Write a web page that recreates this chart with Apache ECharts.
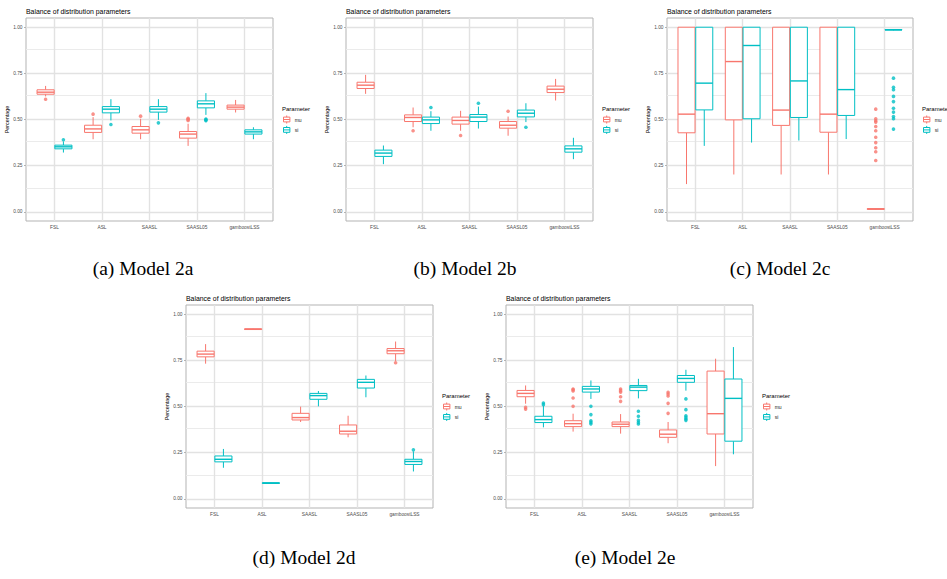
<!DOCTYPE html>
<html><head><meta charset="utf-8">
<script src="https://cdn.jsdelivr.net/npm/echarts@6/dist/echarts.min.js"></script>
<style>html,body{margin:0;padding:0;background:#fff;}#c{width:947px;height:579px;}</style>
</head><body><div id="c"></div>
<script>
// ---------- data ----------
const categories = ['FSL', 'ASL', 'SAASL', 'SAASL05', 'gamboostLSS'];
const yTickValues = [0, 0.25, 0.5, 0.75, 1];
const yMinorValues = [0.125, 0.375, 0.625, 0.875];
const plotTitle = 'Balance of distribution parameters';
const legendTitle = 'Parameter';
const yAxisTitle = 'Percentage';
const captions = ['(a) Model 2a', '(b) Model 2b', '(c) Model 2c', '(d) Model 2d', '(e) Model 2e'];

// each row: [lower whisker, Q1, median, Q3, upper whisker], one row per category
const a_mu = [[0.625,0.637,0.648,0.661,0.682],[0.393,0.430,0.449,0.469,0.513],[0.393,0.426,0.444,0.462,0.504],[0.357,0.399,0.421,0.435,0.477],[0.538,0.556,0.567,0.578,0.606]];
const a_si = [[0.321,0.341,0.352,0.361,0.381],[0.495,0.536,0.556,0.570,0.610],[0.498,0.540,0.556,0.570,0.610],[0.525,0.563,0.585,0.601,0.643],[0.393,0.421,0.433,0.444,0.458]];
const a_mu_out = [['FSL',0.610],['ASL',0.529],['SAASL',0.518],['SAASL05',0.507],['SAASL05',0.501],['SAASL05',0.495]];
const a_si_out = [['FSL',0.390],['ASL',0.473],['SAASL',0.482],['SAASL05',0.503],['SAASL05',0.498],['SAASL05',0.494]];

const b_mu = [[0.639,0.668,0.686,0.702,0.742],[0.458,0.489,0.511,0.525,0.565],[0.439,0.475,0.495,0.513,0.547],[0.412,0.453,0.469,0.489,0.516],[0.603,0.646,0.664,0.681,0.720]];
const b_si = [[0.258,0.300,0.318,0.334,0.359],[0.439,0.478,0.498,0.513,0.545],[0.451,0.489,0.513,0.527,0.570],[0.486,0.514,0.534,0.551,0.588],[0.285,0.323,0.341,0.357,0.401]];
const b_mu_out = [['ASL',0.439],['SAASL',0.413],['SAASL05',0.545]];
const b_si_out = [['ASL',0.565],['SAASL',0.588],['SAASL05',0.458]];

const c_mu = [[0.150,0.428,0.529,1,1],[0.202,0.498,0.814,1,1],[0.202,0.468,0.551,1,1],[0.202,0.431,0.529,1,1],[0.011,0.013,0.015,0.017,0.019]];
const c_si = [[0.357,0.552,0.697,1,1],[0.375,0.504,0.901,1,1],[0.386,0.511,0.709,1,1],[0.394,0.522,0.662,1,1],[0.983,0.985,0.986,0.987,0.989]];
const c_mu_out = [['gamboostLSS',0.556],['gamboostLSS',0.504],['gamboostLSS',0.493],['gamboostLSS',0.486],['gamboostLSS',0.462],['gamboostLSS',0.439],['gamboostLSS',0.404],['gamboostLSS',0.375],['gamboostLSS',0.347],['gamboostLSS',0.325],['gamboostLSS',0.278]];
const c_si_out = [['gamboostLSS',0.724],['gamboostLSS',0.675],['gamboostLSS',0.661],['gamboostLSS',0.625],['gamboostLSS',0.597],['gamboostLSS',0.561],['gamboostLSS',0.540],['gamboostLSS',0.516],['gamboostLSS',0.504],['gamboostLSS',0.448]];

const d_mu = [[0.732,0.769,0.784,0.800,0.838],[0.915,0.917,0.919,0.921,0.923],[0.416,0.427,0.440,0.463,0.499],[0.333,0.351,0.366,0.400,0.450],[0.746,0.786,0.802,0.814,0.852]];
const d_si = [[0.168,0.200,0.214,0.232,0.270],[0.081,0.083,0.085,0.087,0.089],[0.501,0.539,0.559,0.571,0.584],[0.550,0.600,0.631,0.647,0.668],[0.148,0.186,0.202,0.214,0.256]];
const d_mu_out = [['gamboostLSS',0.737]];
const d_si_out = [['gamboostLSS',0.265]];

const e_mu = [[0.515,0.553,0.571,0.587,0.614],[0.364,0.391,0.407,0.423,0.461],[0.353,0.391,0.404,0.416,0.459],[0.301,0.333,0.350,0.373,0.416],[0.177,0.351,0.461,0.692,0.759]];
const e_si = [[0.387,0.413,0.429,0.447,0.505],[0.541,0.578,0.595,0.609,0.641],[0.544,0.586,0.605,0.614,0.650],[0.586,0.631,0.652,0.668,0.699],[0.241,0.312,0.544,0.649,0.822]];
const e_mu_out = [['FSL',0.495],['FSL',0.486],['ASL',0.595],['ASL',0.591],['ASL',0.584],['ASL',0.546],['ASL',0.501],['SAASL',0.595],['SAASL',0.586],['SAASL',0.578],['SAASL',0.553],['SAASL',0.528],['SAASL05',0.577],['SAASL05',0.568],['SAASL05',0.557],['SAASL05',0.517],['SAASL05',0.463]];
const e_si_out = [['FSL',0.519],['FSL',0.510],['ASL',0.501],['ASL',0.456],['ASL',0.423],['ASL',0.414],['ASL',0.406],['SAASL',0.474],['SAASL',0.447],['SAASL',0.425],['SAASL',0.414],['SAASL',0.405],['SAASL05',0.541],['SAASL05',0.483],['SAASL05',0.450],['SAASL05',0.441],['SAASL05',0.432],['SAASL05',0.425]];

// ---------- layout / style ----------
const COLORS = { mu: '#F8766D', si: '#00BFC4' };
const FONT = 'Liberation Sans';
const DODGE = 0.1875, BOXW = 0.36;
const panels = [
  { mu: a_mu, si: a_si, muOut: a_mu_out, siOut: a_si_out, left: 26,  top: 18,  width: 247, height: 203, nameGap: 15, cap: [143, 268] },
  { mu: b_mu, si: b_si, muOut: b_mu_out, siOut: b_si_out, left: 346, top: 18,  width: 247, height: 203, nameGap: 15, cap: [465, 268] },
  { mu: c_mu, si: c_si, muOut: c_mu_out, siOut: c_si_out, left: 667, top: 18,  width: 246, height: 203, nameGap: 16, cap: [780, 268] },
  { mu: d_mu, si: d_si, muOut: d_mu_out, siOut: d_si_out, left: 186, top: 305, width: 247, height: 203, nameGap: 15, cap: [304, 557] },
  { mu: e_mu, si: e_si, muOut: e_mu_out, siOut: e_si_out, left: 506, top: 305, width: 247, height: 203, nameGap: 15, cap: [625, 557] }
];
const catPos = categories.map((c, i) => i + 1);

function boxRenderer(offset, color) {
  return function (params, api) {
    const x = api.value(0) + offset;
    const pts = [1, 2, 3, 4, 5].map(d => api.coord([x, api.value(d)]));
    const w = api.size([BOXW, 0])[0];
    const cx = pts[0][0];
    const yLo = pts[0][1], yQ1 = pts[1][1], yMed = pts[2][1], yQ3 = pts[3][1], yHi = pts[4][1];
    return {
      type: 'group',
      children: [
        { type: 'line', shape: { x1: cx, y1: yHi, x2: cx, y2: yQ3 }, style: { stroke: color, lineWidth: 1 } },
        { type: 'line', shape: { x1: cx, y1: yQ1, x2: cx, y2: yLo }, style: { stroke: color, lineWidth: 1 } },
        { type: 'rect', shape: { x: cx - w / 2, y: yQ3, width: w, height: yQ1 - yQ3 }, style: { fill: '#fff', stroke: color, lineWidth: 1 } },
        { type: 'line', shape: { x1: cx - w / 2, y1: yMed, x2: cx + w / 2, y2: yMed }, style: { stroke: color, lineWidth: 1.4 } }
      ]
    };
  };
}

const major = { color: '#e2e2e2', width: 1.4, type: 'solid' };
const minor = { color: '#ebebeb', width: 1, type: 'solid' };
const legendIcon = 'path://M4,0V2M0,2H8V8H0ZM0,5H8M4,8V10';

const option = {
  animation: false,
  backgroundColor: '#fff',
  title: [],
  legend: [],
  grid: [],
  xAxis: [],
  yAxis: [],
  series: [],
  graphic: []
};

panels.forEach((p, i) => {
  option.grid.push({ left: p.left, top: p.top, width: p.width, height: p.height, show: true, backgroundColor: '#fff', borderColor: '#b3b3b3', borderWidth: 1, containLabel: false, outerBoundsMode: 'none' });
  option.xAxis.push({
    gridIndex: i, type: 'value', min: 0.4, max: 5.6,
    axisLine: { show: false }, splitLine: { show: false },
    axisTick: { show: true, customValues: catPos, length: 2, lineStyle: { color: '#b3b3b3' } },
    axisLabel: { customValues: catPos, formatter: v => categories[Math.round(v) - 1], fontSize: 4.8, color: '#4d4d4d', margin: 3.5, fontFamily: FONT }
  });
  option.yAxis.push({
    gridIndex: i, type: 'value', min: -0.05, max: 1.05,
    name: yAxisTitle, nameLocation: 'middle', nameGap: p.nameGap,
    nameTextStyle: { fontSize: 5.4, color: '#000', fontFamily: FONT },
    axisLine: { show: false }, splitLine: { show: false },
    axisTick: { show: true, customValues: yTickValues, length: 2, lineStyle: { color: '#b3b3b3' } },
    axisLabel: { customValues: yTickValues, formatter: v => v.toFixed(2), fontSize: 4.8, color: '#4d4d4d', margin: 3.5, fontFamily: FONT }
  });
  // gridlines
  option.series.push({
    type: 'line', xAxisIndex: i, yAxisIndex: i, data: [], silent: true,
    markLine: {
      silent: true, symbol: ['none', 'none'], z: 1, animation: false, label: { show: false },
      data: [
        ...yMinorValues.map(v => ({ yAxis: v, lineStyle: minor })),
        ...yTickValues.map(v => ({ yAxis: v, lineStyle: major })),
        ...catPos.map(v => ({ xAxis: v, lineStyle: major }))
      ]
    }
  });
  ['mu', 'si'].forEach((param, j) => {
    const off = j === 0 ? -DODGE : DODGE;
    option.series.push({
      name: param, type: 'custom', xAxisIndex: i, yAxisIndex: i, z: 3,
      renderItem: boxRenderer(off, COLORS[param]),
      encode: { x: 0, y: [1, 2, 3, 4, 5] },
      data: p[param].map((d, k) => [catPos[k], ...d])
    });
    option.series.push({
      name: param, type: 'scatter', xAxisIndex: i, yAxisIndex: i, z: 4,
      symbol: 'circle', symbolSize: 3.6, itemStyle: { color: COLORS[param] },
      data: p[param + 'Out'].map(([c, v]) => [categories.indexOf(c) + 1 + off, v])
    });
  });
  option.title.push({ text: plotTitle, left: p.left, top: p.top - 10, padding: 0, textStyle: { fontSize: 6.9, fontWeight: 'normal', color: '#000', fontFamily: FONT } });
  option.title.push({ text: legendTitle, left: p.left + p.width + 9, top: p.top + 88, padding: 0, textStyle: { fontSize: 6, fontWeight: 'normal', color: '#000', fontFamily: FONT } });
  option.legend.push({
    orient: 'vertical', left: p.left + p.width + 10, top: p.top + 97, padding: 0,
    itemWidth: 8, itemHeight: 8, itemGap: 1.4, selectedMode: false,
    textStyle: { fontSize: 5, color: '#1a1a1a', fontFamily: FONT, padding: [0, 0, 0, -1] },
    data: ['mu', 'si'].map(n => ({ name: n, icon: legendIcon, itemStyle: { color: '#fff', borderColor: COLORS[n], borderWidth: 1 } }))
  });
  option.graphic.push({
    type: 'text', x: p.cap[0], y: p.cap[1], silent: true,
    style: { text: captions[i], fontSize: 19.5, fontFamily: 'Liberation Serif', fill: '#000', textAlign: 'center', textVerticalAlign: 'middle' }
  });
});

const chart = echarts.init(document.getElementById('c'), null, { renderer: 'svg' });
chart.setOption(option);
</script></body></html>
